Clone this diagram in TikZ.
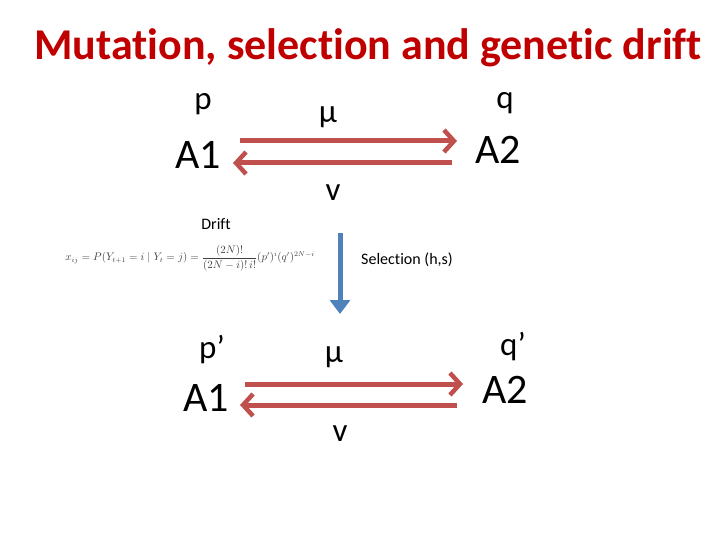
\documentclass[tikz,border=0pt]{standalone}
\usepackage{fontspec}
\setmainfont{Carlito}[Ligatures={NoCommon}]
\usetikzlibrary{arrows.meta}
\definecolor{tred}{RGB}{192,0,0}
\definecolor{ared}{RGB}{192,80,77}
\definecolor{ablue}{RGB}{79,129,189}
\tikzset{
  lbl/.style={inner sep=0pt,font=\fontsize{33}{33}\selectfont},
  big/.style={inner sep=0pt,font=\fontsize{42}{42}\selectfont},
  sm/.style={inner sep=0pt,font=\fontsize{16}{16}\selectfont},
  rarrow/.style={draw=ared,line width=5pt,-{Straight Barb[length=10pt,width=22pt,line width=4.5pt]}},
  barrow/.style={draw=ablue,line width=5pt,-{Triangle[length=14pt,width=20pt]}}
}
\begin{document}
\begin{tikzpicture}[x=1pt,y=-1pt]
\useasboundingbox (0,0) rectangle (720,540);
\node[inner sep=0pt,text=tred,font=\fontsize{44}{44}\selectfont\bfseries] (title) at (368,48) {Mutation, selection and genetic drift};
\node[lbl] (p) at (203,104) {p};
\node[big] (a1) at (198,155) {A1};
\node[lbl] (mu) at (328,117) {µ};
\node[lbl] (q) at (505,103) {q};
\node[big] (a2) at (498,150) {A2};
\node[lbl] (v) at (333,193) {v};
\coordinate (t1s) at (240,141); \coordinate (t1e) at (457,141);
\coordinate (t2s) at (452,163); \coordinate (t2e) at (233,163);
\draw[rarrow] (t1s) -- (t1e);
\draw[rarrow] (t2s) -- (t2e);
\node[sm] (drift) at (216,224) {Drift};
\node[inner sep=0pt,text=black!75] (f) at (190,258) {\fontsize{10.5}{11}\selectfont$x_{ij}=P(Y_{t+1}=i\mid Y_t=j)=\displaystyle\frac{(2N)!}{(2N-i)!\,i!}(p')^i(q')^{2N-i}$};
\node[sm] (sel) at (407,260) {Selection (h,s)};
\coordinate (bs) at (340,233); \coordinate (be) at (340,314);
\draw[barrow] (bs) -- (be);
\node[lbl] (p2) at (212,350) {p’};
\node[big] (a1b) at (206,398) {A1};
\node[lbl] (mu2) at (334,357) {µ};
\node[lbl] (q2) at (513,347) {q’};
\node[big] (a2b) at (505,390) {A2};
\node[lbl] (v2) at (340,434) {v};
\coordinate (b1s) at (245,384); \coordinate (b1e) at (463,384);
\coordinate (b2s) at (457,405); \coordinate (b2e) at (240,405);
\draw[rarrow] (b1s) -- (b1e);
\draw[rarrow] (b2s) -- (b2e);
\end{tikzpicture}
\end{document}
